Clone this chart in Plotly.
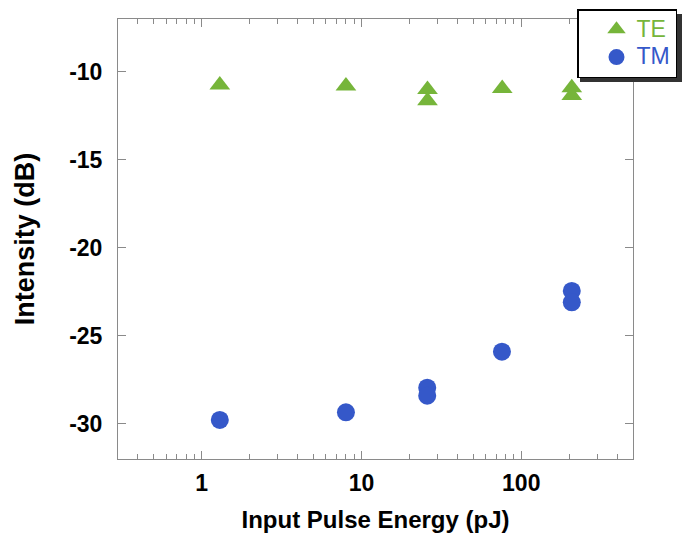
import plotly.graph_objects as go

# Data
te_energy = [1.30, 8.0, 25.9, 25.9, 76.0, 207.0, 207.0]
te_intensity = [-10.75, -10.8, -11.0, -11.65, -10.95, -10.9, -11.35]
tm_energy = [1.30, 8.0, 25.8, 25.8, 75.7, 207.0, 207.0]
tm_intensity = [-29.78, -29.35, -27.95, -28.4, -25.9, -22.45, -23.1]

x_major = [1, 10, 100]
x_major_text = ["1", "10", "100"]
x_minor = [m * d for d in (0.1, 1, 10, 100) for m in range(2, 10) if 0.3 <= m * d <= 500]
y_ticks = [-30, -25, -20, -15, -10]
y_tick_text = ["-30", "-25", "-20", "-15", "-10"]

GREEN = "#76b53a"
BLUE = "#3558c9"
AXIS = "#8a8a8a"
FONT = "Arial, Liberation Sans, sans-serif"

fig = go.Figure()
fig.add_trace(go.Scatter(
    x=te_energy, y=te_intensity, mode="markers",
    name='<span style="color:%s;font-size:23px">TE</span>' % GREEN,
    marker=dict(symbol="triangle-up", size=18, color=GREEN, line=dict(width=0)),
))
fig.add_trace(go.Scatter(
    x=tm_energy, y=tm_intensity, mode="markers",
    name='<span style="color:%s;font-size:23px">TM</span>' % BLUE,
    marker=dict(symbol="circle", size=18, color=BLUE, line=dict(width=0)),
))

W, H = 682, 538
L, R, T, B = 118, 49, 19, 79
pw, ph = W - L - R, H - T - B

def px_x(p):
    return (p - L) / pw

def px_y(p):
    return (H - B - p) / ph

# legend shadow
fig.add_shape(type="rect", xref="paper", yref="paper",
              x0=px_x(580), x1=px_x(720), y0=px_y(82), y1=px_y(14),
              fillcolor="#333333", line=dict(width=0), layer="above")

fig.update_layout(
    width=W, height=H,
    margin=dict(l=L, r=R, t=T, b=B, autoexpand=False),
    paper_bgcolor="white", plot_bgcolor="white",
    font=dict(family=FONT, color="black"),
    showlegend=True,
    legend=dict(
        x=px_x(577), y=px_y(9), xanchor="left", yanchor="top",
        bgcolor="white", bordercolor="black", borderwidth=1.5,
        font=dict(family=FONT, size=19, color="black"),
        indentation=18,
        entrywidth=140, entrywidthmode="pixels",
    ),
    xaxis=dict(
        type="log", range=[-0.5229, 2.699],
        tickmode="array", tickvals=x_major, ticktext=x_major_text,
        ticks="inside", ticklen=8, tickcolor=AXIS, tickwidth=1,
        minor=dict(tickmode="array", tickvals=x_minor, ticks="inside",
                   ticklen=5, tickcolor=AXIS, tickwidth=1),
        showline=True, linecolor=AXIS, linewidth=1, mirror="ticks",
        showgrid=False, zeroline=False,
        tickfont=dict(family=FONT, size=23, weight="bold", color="black"),
        ticklabelstandoff=3,
        title=dict(text="Input Pulse Energy (pJ)", standoff=16,
                   font=dict(family=FONT, size=24, weight="bold", color="black")),
    ),
    yaxis=dict(
        range=[-32, -7],
        tickmode="array", tickvals=y_ticks, ticktext=y_tick_text,
        ticks="inside", ticklen=8, tickcolor=AXIS, tickwidth=1,
        showline=True, linecolor=AXIS, linewidth=1, mirror="ticks",
        showgrid=False, zeroline=False,
        tickfont=dict(family=FONT, size=23, weight="bold", color="black"),
        ticklabelstandoff=10,
        title=dict(text="Intensity (dB)", standoff=26,
                   font=dict(family=FONT, size=27, weight="bold", color="black")),
    ),
)

fig.write_html("out.html")
